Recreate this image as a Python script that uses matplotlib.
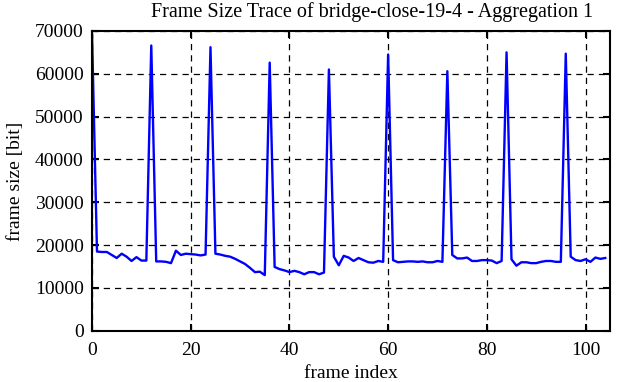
import matplotlib
matplotlib.use("Agg")
import matplotlib.pyplot as plt

# frame sizes in bit, one value per frame (aggregation 1)
frame_size = [
    69000, 18500, 18400, 18400, 17700, 17000, 18000, 17300, 16300, 17200,
    16400, 16400, 66600, 16200, 16200, 16100, 15800, 18700, 17700, 18000,
    17900, 17800, 17600, 17800, 66200, 18000, 17800, 17500, 17300, 16800,
    16200, 15600, 14700, 13700, 13800, 13000, 62600, 14900, 14400, 14100,
    13700, 14000, 13700, 13200, 13700, 13700, 13200, 13600, 61000, 17300,
    15300, 17500, 17100, 16300, 17000, 16500, 16000, 15900, 16300, 16100,
    64500, 16500, 16000, 16100, 16200, 16200, 16100, 16200, 16000, 16000,
    16300, 16100, 60600, 17700, 16900, 16900, 17100, 16300, 16300, 16500,
    16500, 16400, 15800, 16300, 65000, 16700, 15200, 16000, 16000, 15800,
    15800, 16100, 16300, 16300, 16100, 16100, 64700, 17300, 16500, 16300,
    16700, 16100, 17100, 16800, 17000,
]
frame_index = list(range(len(frame_size)))

x_ticks = [0, 20, 40, 60, 80, 100]
y_ticks = [0, 10000, 20000, 30000, 40000, 50000, 60000, 70000]

plt.rcParams['font.family'] = ['Liberation Serif', 'DejaVu Serif']

fig = plt.figure(figsize=(6.22, 3.82), dpi=100)
ax = fig.add_axes([0.148, 0.134, 0.833, 0.785])

ax.plot(frame_index, frame_size, color='#0000ff', linewidth=1.7)

ax.set_xlim(0, 105)
ax.set_ylim(0, 70000)
ax.set_xticks(x_ticks)
ax.set_yticks(y_ticks)
ax.grid(True, color='black', linestyle=(0, (5, 4)), linewidth=0.9)
ax.tick_params(direction='in', length=5, width=1.5, top=True, right=True, labelsize=14, pad=6)
ax.tick_params(axis='x', pad=8)
for s in ax.spines.values():
    s.set_linewidth(1.5)

ax.set_xlabel('frame index', fontsize=14, labelpad=4.5)
ax.set_ylabel('frame size [bit]', fontsize=14, labelpad=8)
ax.set_title('Frame Size Trace of bridge-close-19-4 - Aggregation 1', fontsize=14.5, pad=10, x=0.54)

fig.savefig('out.png', dpi=100)
